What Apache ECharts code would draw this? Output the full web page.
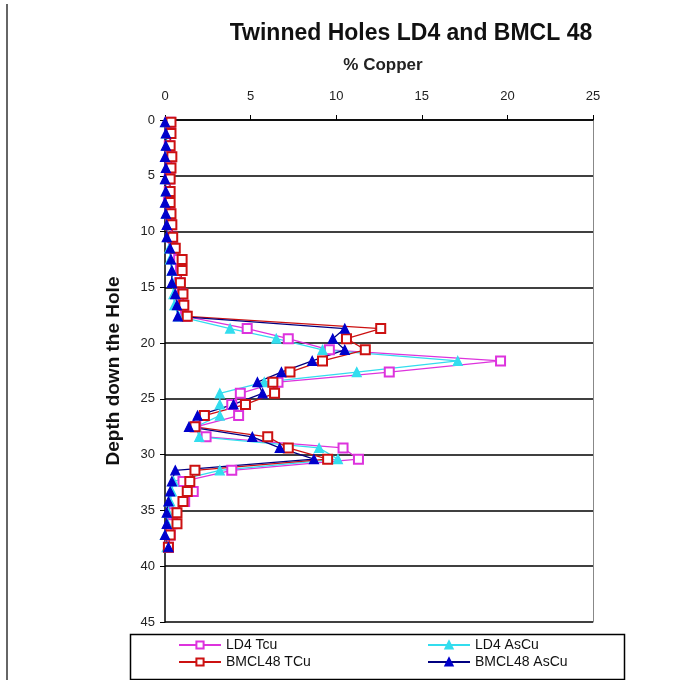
<!DOCTYPE html>
<html>
<head>
<meta charset="utf-8">
<script src="https://cdn.jsdelivr.net/npm/echarts@6/dist/echarts.min.js"></script>
<style>
html,body{margin:0;padding:0;background:#fff;}
#c{width:696px;height:680px;}
</style>
</head>
<body>
<div id="c"></div>
<script>
// Depth down the hole (m)
var depths = [0.2,1.2,2.3,3.3,4.3,5.3,6.4,7.4,8.4,9.4,10.5,11.5,12.5,13.5,14.6,15.6,16.6,17.6,18.7,19.6,20.6,21.6,22.6,23.5,24.5,25.5,26.5,27.5,28.4,29.4,30.4,31.4,32.4,33.3,34.2,35.2,36.2,37.2,38.3];
// % Copper
var ld4Tcu    = [0.3,0.3,0.25,0.3,0.3,0.25,0.25,0.2,0.3,0.35,0.4,0.5,0.8,0.9,0.85,1.0,1.05,1.2,4.8,7.2,9.6,19.6,13.1,6.6,4.4,3.9,4.3,1.8,2.4,10.4,11.3,3.9,1.05,1.65,1.15,0.5,0.4,0.3,0.2];
var ld4AsCu   = [0.1,0.1,0.1,0.05,0.1,0.05,0.05,0.1,0.1,0.15,0.2,0.25,0.3,0.4,0.45,0.5,0.55,0.8,3.8,6.5,9.2,17.1,11.2,5.8,3.2,3.2,3.2,1.8,2.0,9.0,10.1,3.2,0.5,0.4,0.3,0.2,0.15,0.0,0.1];
var bmclTCu   = [0.35,0.35,0.3,0.4,0.35,0.3,0.3,0.3,0.35,0.4,0.45,0.6,1.0,1.0,0.9,1.05,1.1,1.3,12.6,10.6,11.7,9.2,7.3,6.3,6.4,4.7,2.3,1.75,6.0,7.2,9.5,1.75,1.45,1.3,1.05,0.7,0.7,0.3,0.2];
var bmclAsCu  = [0.0,0.05,0.05,0.0,0.05,0.0,0.05,0.0,0.05,0.1,0.1,0.3,0.35,0.4,0.4,0.6,0.7,0.75,10.5,9.8,10.5,8.6,6.8,5.4,5.7,4.0,1.9,1.4,5.1,6.7,8.7,0.6,0.4,0.3,0.2,0.1,0.1,0.0,0.2];
var seriesNames = ['LD4 Tcu','LD4 AsCu','BMCL48 TCu','BMCL48 AsCu'];
var xTicks = {min:0, max:25, interval:5};
var yTicks = {min:0, max:45, interval:5};

function pairs(vals){ return vals.map(function(v,i){ return [v, depths[i]]; }); }

var FONT = '"Liberation Sans", Arial, sans-serif';
var chart = echarts.init(document.getElementById('c'), null, {renderer:'canvas'});

function mkSeries(name, vals, color, symbol, size, lineColor){
  return {
    name: name, type: 'line', data: pairs(vals),
    symbol: symbol, symbolSize: size, showSymbol: true,
    lineStyle: {color: lineColor || color, width: 1.3},
    itemStyle: {color: color, borderColor: color, borderWidth: 1.2},
    emphasis: {disabled: true}, animation: false
  };
}

var legendCommon = {
  orient: 'vertical', top: 638, padding: 0,
  itemWidth: 42, itemHeight: 9, itemGap: 3, itemTextGap: 4,
  textStyle: {fontFamily: FONT, fontSize: 14, color: '#111'}
};

chart.setOption({
  animation: false,
  backgroundColor: '#fff',
  title: [{
    text: 'Twinned Holes LD4 and BMCL 48',
    left: 406, top: 17, textAlign: 'center',
    textStyle: {fontFamily: FONT, fontSize: 23, fontWeight: 'bold', color: '#111'}
  },{
    text: '% Copper',
    left: 378, top: 52, textAlign: 'center',
    textStyle: {fontFamily: FONT, fontSize: 17, fontWeight: 'bold', color: '#222'}
  }],
  grid: {left: 165, top: 120, right: 103, bottom: 58, containLabel: false},
  xAxis: {
    type: 'value', position: 'top',
    min: xTicks.min, max: xTicks.max, interval: xTicks.interval,
    axisLine: {show: true, lineStyle: {color: '#000', width: 1.5}},
    axisTick: {show: true, inside: false, length: 5, lineStyle: {color: '#000'}},
    axisLabel: {margin: 17, fontFamily: FONT, fontSize: 13, color: '#222'},
    splitLine: {show: false}
  },
  yAxis: [{
    type: 'value', inverse: true,
    min: yTicks.min, max: yTicks.max, interval: yTicks.interval,
    name: 'Depth down the Hole', nameLocation: 'middle', nameGap: 42,
    nameTextStyle: {fontFamily: FONT, fontSize: 19, fontWeight: 'bold', color: '#111'},
    axisLine: {show: true, lineStyle: {color: '#000', width: 1.5}},
    axisTick: {show: true, length: 5, lineStyle: {color: '#000'}},
    axisLabel: {margin: 10, fontFamily: FONT, fontSize: 13, color: '#222'},
    splitLine: {show: true, lineStyle: {color: '#000', width: 1.5}}
  },{
    type: 'value', inverse: true, position: 'right',
    min: yTicks.min, max: yTicks.max, interval: yTicks.interval,
    axisLine: {show: true, lineStyle: {color: '#888', width: 1}},
    axisTick: {show: false}, axisLabel: {show: false}, splitLine: {show: false}
  }],
  legend: [
    Object.assign({left: 178, data: [seriesNames[0], seriesNames[2]]}, legendCommon),
    Object.assign({left: 427, data: [seriesNames[1], seriesNames[3]]}, legendCommon)
  ],
  graphic: [{
    type: 'rect', left: 128, top: 632,
    shape: {width: 494, height: 45},
    style: {fill: 'none', stroke: '#000', lineWidth: 1.5}, silent: true
  },{
    type: 'line', shape: {x1: 7, y1: 4, x2: 7, y2: 680},
    style: {stroke: '#666', lineWidth: 2}, silent: true
  }],
  series: [
    mkSeries(seriesNames[0], ld4Tcu, '#dd33dd', 'emptyRect', 9),
    mkSeries(seriesNames[1], ld4AsCu, '#33ddee', 'triangle', 9),
    mkSeries(seriesNames[2], bmclTCu, '#cc1111', 'emptyRect', 9),
    mkSeries(seriesNames[3], bmclAsCu, '#0000cc', 'triangle', 9, '#000080')
  ]
});
</script>
</body>
</html>
